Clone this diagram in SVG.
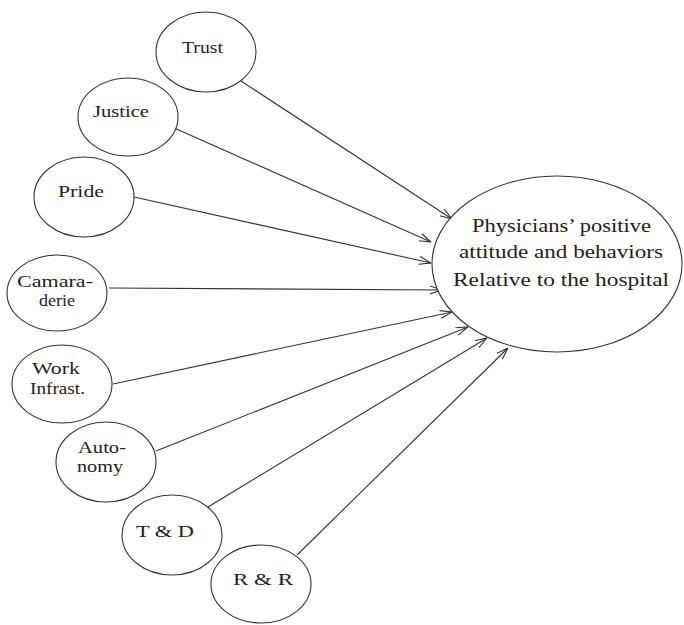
<svg xmlns="http://www.w3.org/2000/svg" width="684" height="625" viewBox="0 0 684 625">
<style>
.node ellipse{fill:#fff;stroke:#333;stroke-width:1.1}
text{font-family:"Liberation Serif","Times New Roman",serif;fill:#222;font-size:17px}
.big text{font-size:18px}
.conn line{stroke:#333;stroke-width:1.1;marker-end:url(#arr)}
</style>
<defs>
<marker id="arr" markerUnits="userSpaceOnUse" viewBox="0 0 12 10" refX="12" refY="5" markerWidth="12" markerHeight="10" orient="auto">
<path d="M0,1 L12,5 L0,9" fill="none" stroke="#333" stroke-width="1.1"/>
</marker>
</defs>
<rect width="684" height="625" fill="#fff"/>
<g class="conn">
<line x1="241" y1="81" x2="452" y2="219"/>
<line x1="172" y1="127" x2="431" y2="242"/>
<line x1="134" y1="197" x2="431" y2="263"/>
<line x1="109" y1="288" x2="442" y2="290"/>
<line x1="113" y1="384" x2="452" y2="312"/>
<line x1="156" y1="451" x2="468" y2="327"/>
<line x1="208" y1="507" x2="487" y2="338"/>
<line x1="297" y1="555" x2="508" y2="348"/>
</g>
<g id="outcome" class="node big">
<ellipse cx="557" cy="264" rx="125" ry="88"/>
<text x="472" y="232" textLength="179" lengthAdjust="spacingAndGlyphs">Physicians’ positive</text>
<text x="459" y="258" textLength="204" lengthAdjust="spacingAndGlyphs">attitude and behaviors</text>
<text x="453" y="286" textLength="216" lengthAdjust="spacingAndGlyphs">Relative to the hospital</text>
</g>
<g id="trust" class="node">
<ellipse cx="206" cy="52" rx="50" ry="40"/>
<text x="182" y="53" textLength="41" lengthAdjust="spacingAndGlyphs">Trust</text>
</g>
<g id="justice" class="node">
<ellipse cx="128" cy="117" rx="50" ry="39"/>
<text x="93" y="117" textLength="56" lengthAdjust="spacingAndGlyphs">Justice</text>
</g>
<g id="pride" class="node">
<ellipse cx="84" cy="197" rx="50" ry="40"/>
<text x="58" y="197" textLength="46" lengthAdjust="spacingAndGlyphs">Pride</text>
</g>
<g id="camaraderie" class="node">
<ellipse cx="57" cy="293" rx="50" ry="38"/>
<text x="17" y="287" textLength="76" lengthAdjust="spacingAndGlyphs">Camara-</text>
<text x="39" y="306" textLength="36" lengthAdjust="spacingAndGlyphs">derie</text>
</g>
<g id="work" class="node">
<ellipse cx="62" cy="384" rx="50" ry="39"/>
<text x="32" y="374" textLength="48" lengthAdjust="spacingAndGlyphs">Work</text>
<text x="30" y="394" textLength="55" lengthAdjust="spacingAndGlyphs">Infrast.</text>
</g>
<g id="autonomy" class="node">
<ellipse cx="106" cy="462" rx="50" ry="40"/>
<text x="78" y="453" textLength="48" lengthAdjust="spacingAndGlyphs">Auto-</text>
<text x="77" y="472" textLength="46" lengthAdjust="spacingAndGlyphs">nomy</text>
</g>
<g id="td" class="node">
<ellipse cx="172" cy="535" rx="50" ry="40"/>
<text x="136" y="537" textLength="58" lengthAdjust="spacingAndGlyphs">T &amp; D</text>
</g>
<g id="rr" class="node">
<ellipse cx="261" cy="584" rx="50" ry="39"/>
<text x="233" y="585" textLength="60" lengthAdjust="spacingAndGlyphs">R &amp; R</text>
</g>
</svg>
